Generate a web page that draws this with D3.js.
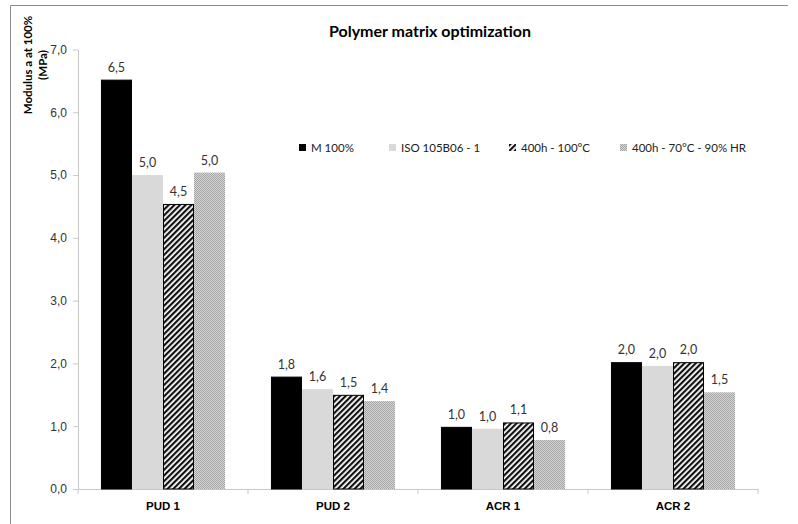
<!DOCTYPE html>
<html>
<head>
<meta charset="utf-8">
<script src="https://cdn.jsdelivr.net/npm/d3@7"></script>
<style>
  html, body { margin: 0; padding: 0; background: #fff; }
  svg { display: block; font-family: Lato, "Open Sans", sans-serif; }
</style>
</head>
<body>
<svg id="chart" width="798" height="524"></svg>
<script>
// Modulus at 100% elongation (MPa) for each polymer matrix and ageing condition
const categories = ["PUD 1", "PUD 2", "ACR 1", "ACR 2"];
const seriesNames = ["M 100%", "ISO 105B06 - 1", "400h - 100°C", "400h - 70°C - 90% HR"];
const m100      = [6.52, 1.79, 0.99, 2.02];
const iso105b06 = [5.0, 1.59, 0.96, 1.96];
const aged100C  = [4.54, 1.50, 1.06, 2.02];
const aged70C   = [5.04, 1.40, 0.78, 1.54];
const yTicks    = [0, 1, 2, 3, 4, 5, 6, 7];

const seriesValues = [m100, iso105b06, aged100C, aged70C];

const svg = d3.select("#chart");
const margin = { left: 78, right: 40, top: 49.5, bottom: 35 };
const W = 798, H = 524;

// Frame lines (top and left)
svg.append("line").attr("x1", 10.5).attr("x2", 788).attr("y1", 5.5).attr("y2", 5.5)
  .attr("stroke", "#8c8c8c").attr("stroke-width", 1);
svg.append("line").attr("x1", 10.5).attr("x2", 10.5).attr("y1", 5.5).attr("y2", H)
  .attr("stroke", "#8c8c8c").attr("stroke-width", 1);

// Fill patterns
const defs = svg.append("defs");
const diag = defs.append("pattern").attr("id", "diag")
  .attr("patternUnits", "userSpaceOnUse").attr("width", 4).attr("height", 4)
  .attr("patternTransform", "rotate(45)");
diag.append("rect").attr("width", 4).attr("height", 4).attr("fill", "#fff");
diag.append("rect").attr("width", 2.2).attr("height", 4).attr("fill", "#111");

const dots = defs.append("pattern").attr("id", "dots")
  .attr("patternUnits", "userSpaceOnUse").attr("width", 2).attr("height", 2);
dots.append("rect").attr("width", 2).attr("height", 2).attr("fill", "#d6d6d6");
dots.append("rect").attr("width", 1).attr("height", 1).attr("fill", "#a4a4a4");
dots.append("rect").attr("x", 1).attr("y", 1).attr("width", 1).attr("height", 1).attr("fill", "#a4a4a4");

const fills = ["#000000", "#d9d9d9", "url(#diag)", "url(#dots)"];
const strokes = ["#000000", "none", "#000000", "none"];

const x0 = d3.scaleBand().domain(categories).range([margin.left, 758]).paddingInner(0).paddingOuter(0);
const x1 = d3.scaleBand().domain(d3.range(seriesNames.length))
  .range([0, x0.bandwidth()]).paddingInner(0).paddingOuter(0.74);
const y = d3.scaleLinear().domain([0, 7]).range([H - 35, margin.top]);

const fmt = v => d3.format(".1f")(v).replace(".", ",");

// Y axis
const yAxis = svg.append("g").attr("transform", `translate(${margin.left},0)`)
  .call(d3.axisLeft(y).tickValues(yTicks).tickFormat(fmt).tickSize(5).tickSizeOuter(0));
yAxis.select(".domain").attr("stroke", "#c8c8c8");
yAxis.selectAll(".tick line").attr("stroke", "#c8c8c8");
yAxis.selectAll(".tick text").attr("fill", "#333").attr("font-size", 12).attr("dx", -3);

// X axis
const xAxis = svg.append("g").attr("transform", `translate(0,${y(0)})`)
  .call(d3.axisBottom(x0).tickSize(0).tickSizeOuter(0));
xAxis.select(".domain").attr("stroke", "#c8c8c8");
xAxis.selectAll(".tick text").attr("fill", "#000").attr("font-size", 11.5)
  .attr("font-weight", "bold").attr("y", 13).attr("dy", "0.71em");
// category separators
svg.append("g").selectAll("line").data(categories.concat([null]))
  .join("line")
  .attr("x1", (d, i) => i < categories.length ? x0(d) : x0.range()[1])
  .attr("x2", (d, i) => i < categories.length ? x0(d) : x0.range()[1])
  .attr("y1", y(0)).attr("y2", y(0) + 5)
  .attr("stroke", "#c8c8c8");

// Bars
const groups = svg.append("g").selectAll("g").data(categories).join("g")
  .attr("transform", d => `translate(${x0(d)},0)`);

groups.selectAll("rect").data((c, ci) => seriesValues.map((s, si) => ({ si, v: s[ci] })))
  .join("rect")
  .attr("x", d => x1(d.si) + (strokes[d.si] !== "none" ? 0.5 : 0))
  .attr("width", d => x1.bandwidth() - (strokes[d.si] !== "none" ? 1 : 0))
  .attr("y", d => y(d.v) + (strokes[d.si] !== "none" ? 0.5 : 0))
  .attr("height", d => y(0) - y(d.v) - (strokes[d.si] !== "none" ? 0.5 : 0))
  .attr("fill", d => fills[d.si])
  .attr("stroke", d => strokes[d.si]);

groups.selectAll("text.val").data((c, ci) => seriesValues.map((s, si) => ({ si, v: s[ci] })))
  .join("text").attr("class", "val")
  .attr("x", d => x1(d.si) + x1.bandwidth() / 2)
  .attr("y", d => y(d.v) - 8)
  .attr("text-anchor", "middle")
  .attr("font-size", 12.5).attr("fill", "#333")
  .text(d => fmt(d.v));

// Title
svg.append("text").attr("x", 430).attr("y", 37).attr("text-anchor", "middle")
  .attr("font-size", 16).attr("font-weight", "bold").text("Polymer matrix optimization");

// Y axis title
const yt = svg.append("text").attr("transform", "translate(32,65) rotate(-90)")
  .attr("text-anchor", "middle").attr("font-size", 11.5).attr("font-weight", "bold");
yt.append("tspan").attr("x", 0).attr("y", 0).text("Modulus a at 100%");
yt.append("tspan").attr("x", 0).attr("y", 15).text("(MPa)");

// Legend
const legendX = [299, 389, 509, 620];
const legend = svg.append("g").selectAll("g").data(seriesNames).join("g")
  .attr("transform", (d, i) => `translate(${legendX[i]},144)`);
legend.append("rect").attr("width", 7).attr("height", 7)
  .attr("fill", (d, i) => fills[i]);
legend.append("text").attr("x", 12).attr("y", 8).attr("font-size", 11.5).attr("fill", "#222")
  .text(d => d);
</script>
</body>
</html>
